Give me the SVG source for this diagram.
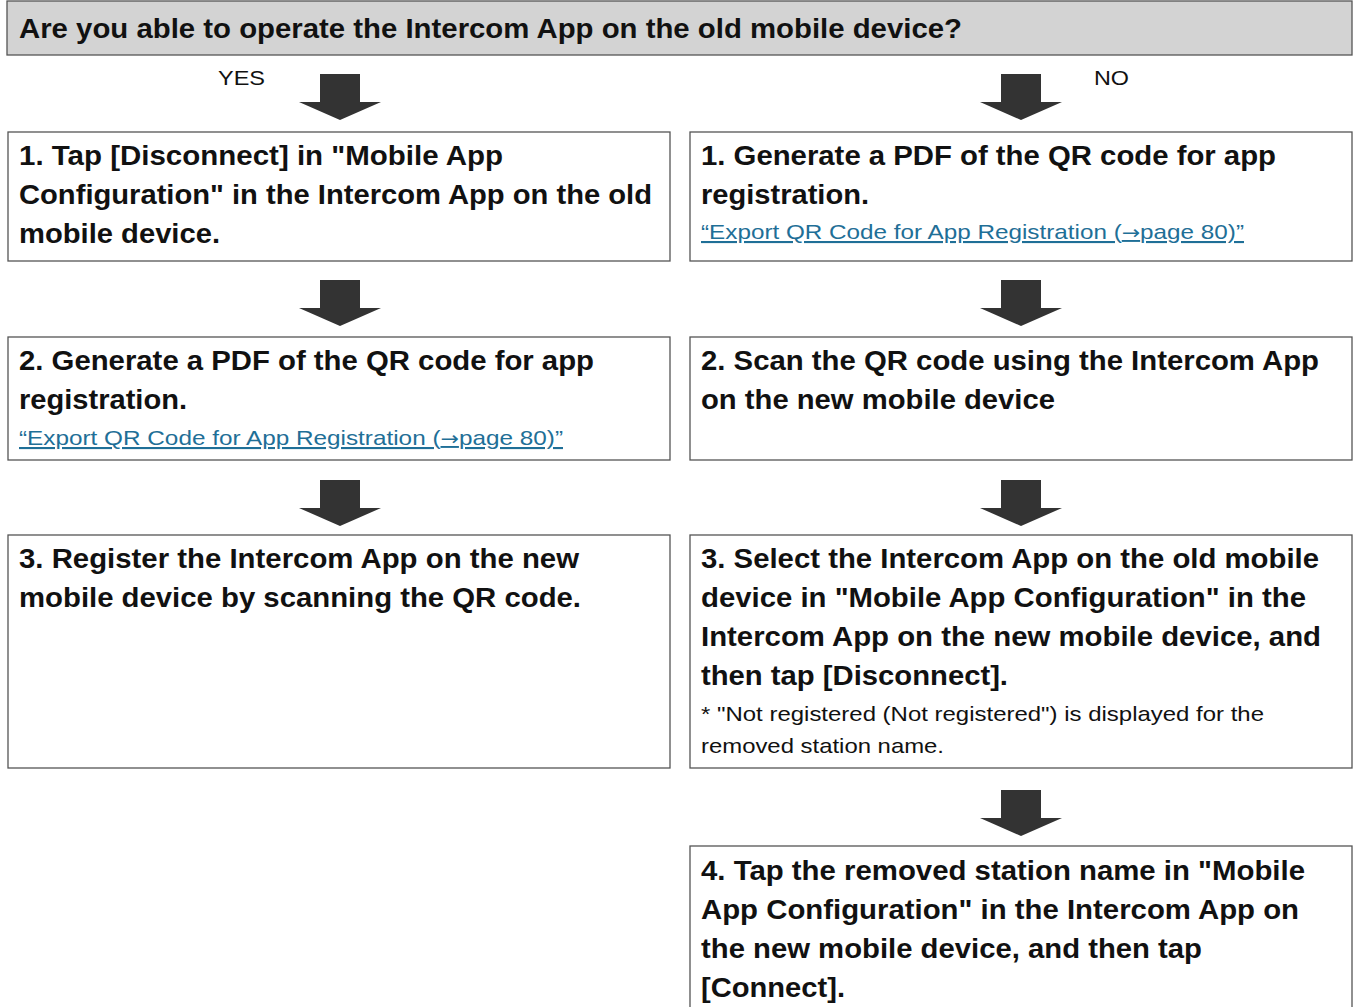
<svg xmlns="http://www.w3.org/2000/svg" width="1356" height="1007" viewBox="0 0 1356 1007">
<style>
.box{fill:#fff;stroke:#555;stroke-width:1.3}
.hdr{fill:#d3d3d3;stroke:#555;stroke-width:1.3}
.b{font-family:"Liberation Sans",Arial,sans-serif;font-weight:bold;font-size:27px;fill:#111}
.n{font-family:"Liberation Sans",Arial,sans-serif;font-size:21px;fill:#111}
.lk{font-family:"Liberation Sans",Arial,sans-serif;font-size:21px;fill:#1f6f97;text-decoration:underline}
.ar{font-family:"DejaVu Sans",sans-serif;font-size:19px}
.arr{fill:#333}
</style>
<defs>
<path id="a" d="M-20,0 H20 V28 H41 L0,46 L-41,28 H-20 Z"/>
</defs>
<rect width="1356" height="1007" fill="#fff"/>
<g id="question">
<rect class="hdr" x="7" y="1" width="1345" height="54"/>
<text class="b" x="19" y="38" textLength="943" lengthAdjust="spacingAndGlyphs">Are you able to operate the Intercom App on the old mobile device?</text>
</g>
<g id="labels">
<text class="n" x="218" y="85" textLength="47" lengthAdjust="spacingAndGlyphs">YES</text>
<text class="n" x="1094" y="85" textLength="35" lengthAdjust="spacingAndGlyphs">NO</text>
</g>
<g id="connectors">
<use href="#a" class="arr" x="340" y="74"/>
<use href="#a" class="arr" x="1021" y="74"/>
<use href="#a" class="arr" x="340" y="280"/>
<use href="#a" class="arr" x="1021" y="280"/>
<use href="#a" class="arr" x="340" y="480"/>
<use href="#a" class="arr" x="1021" y="480"/>
<use href="#a" class="arr" x="1021" y="790"/>
</g>
<g id="yes1">
<rect class="box" x="8" y="132" width="662" height="129"/>
<text class="b" x="19" y="165" textLength="484" lengthAdjust="spacingAndGlyphs">1. Tap [Disconnect] in "Mobile App</text>
<text class="b" x="19" y="204" textLength="633" lengthAdjust="spacingAndGlyphs">Configuration" in the Intercom App on the old</text>
<text class="b" x="19" y="243" textLength="201" lengthAdjust="spacingAndGlyphs">mobile device.</text>
</g>
<g id="no1">
<rect class="box" x="690" y="132" width="662" height="129"/>
<text class="b" x="701" y="165" textLength="575" lengthAdjust="spacingAndGlyphs">1. Generate a PDF of the QR code for app</text>
<text class="b" x="701" y="204" textLength="168" lengthAdjust="spacingAndGlyphs">registration.</text>
<text class="lk" x="701" y="239" textLength="543" lengthAdjust="spacingAndGlyphs">“Export QR Code for App Registration (<tspan class="ar">→</tspan>page 80)”</text>
</g>
<g id="yes2">
<rect class="box" x="8" y="337" width="662" height="123"/>
<text class="b" x="19" y="370" textLength="575" lengthAdjust="spacingAndGlyphs">2. Generate a PDF of the QR code for app</text>
<text class="b" x="19" y="409" textLength="168" lengthAdjust="spacingAndGlyphs">registration.</text>
<text class="lk" x="19" y="445" textLength="544" lengthAdjust="spacingAndGlyphs">“Export QR Code for App Registration (<tspan class="ar">→</tspan>page 80)”</text>
</g>
<g id="no2">
<rect class="box" x="690" y="337" width="662" height="123"/>
<text class="b" x="701" y="370" textLength="618" lengthAdjust="spacingAndGlyphs">2. Scan the QR code using the Intercom App</text>
<text class="b" x="701" y="409" textLength="354" lengthAdjust="spacingAndGlyphs">on the new mobile device</text>
</g>
<g id="yes3">
<rect class="box" x="8" y="535" width="662" height="233"/>
<text class="b" x="19" y="568" textLength="560" lengthAdjust="spacingAndGlyphs">3. Register the Intercom App on the new</text>
<text class="b" x="19" y="607" textLength="562" lengthAdjust="spacingAndGlyphs">mobile device by scanning the QR code.</text>
</g>
<g id="no3">
<rect class="box" x="690" y="535" width="662" height="233"/>
<text class="b" x="701" y="568" textLength="618" lengthAdjust="spacingAndGlyphs">3. Select the Intercom App on the old mobile</text>
<text class="b" x="701" y="607" textLength="605" lengthAdjust="spacingAndGlyphs">device in "Mobile App Configuration" in the</text>
<text class="b" x="701" y="646" textLength="620" lengthAdjust="spacingAndGlyphs">Intercom App on the new mobile device, and</text>
<text class="b" x="701" y="685" textLength="307" lengthAdjust="spacingAndGlyphs">then tap [Disconnect].</text>
<text class="n" x="701" y="721" textLength="563" lengthAdjust="spacingAndGlyphs">* "Not registered (Not registered") is displayed for the</text>
<text class="n" x="701" y="753" textLength="243" lengthAdjust="spacingAndGlyphs">removed station name.</text>
</g>
<g id="no4">
<rect class="box" x="690" y="846" width="662" height="200"/>
<text class="b" x="701" y="880" textLength="604" lengthAdjust="spacingAndGlyphs">4. Tap the removed station name in "Mobile</text>
<text class="b" x="701" y="919" textLength="598" lengthAdjust="spacingAndGlyphs">App Configuration" in the Intercom App on</text>
<text class="b" x="701" y="958" textLength="501" lengthAdjust="spacingAndGlyphs">the new mobile device, and then tap</text>
<text class="b" x="701" y="997" textLength="144" lengthAdjust="spacingAndGlyphs">[Connect].</text>
</g>
</svg>
